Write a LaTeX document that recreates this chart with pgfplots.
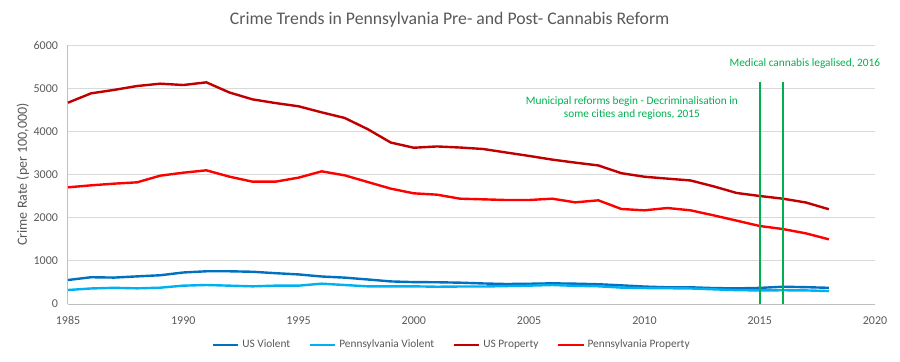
\documentclass[border=0pt]{standalone}
\usepackage{pgfplots}
\pgfplotsset{compat=1.18}
\usepackage{fontspec}
\setmainfont{Carlito}
\definecolor{txtgray}{RGB}{89,89,89}
\definecolor{gridgray}{RGB}{217,217,217}
\definecolor{axgray}{RGB}{191,191,191}
\definecolor{usviol}{RGB}{0,112,192}
\definecolor{paviol}{RGB}{0,176,240}
\definecolor{usprop}{RGB}{192,0,0}
\definecolor{paprop}{RGB}{255,0,0}
\definecolor{ann}{RGB}{0,176,80}
\begin{document}
\begin{tikzpicture}
\useasboundingbox (-51pt,-42.75pt) rectangle (624pt,228pt);
\begin{axis}[
  scale only axis,
  width=605.25pt, height=194.25pt,
  xmin=1985, xmax=2020, ymin=0, ymax=6000,
  xtick={1985,1990,...,2020},
  ytick={0,1000,...,6000},
  axis x line=bottom, axis y line=left,
  axis line style={draw=axgray, line width=0.75pt, -},
  major tick length=0pt,
  ymajorgrids, grid style={draw=gridgray, line width=0.75pt},
  /pgf/number format/1000 sep={},
  /pgf/number format/assume math mode=true,
  tick label style={font=\fontsize{9}{10}\selectfont, text=txtgray},
  xticklabel style={yshift=-6pt},
  yticklabel style={xshift=-4pt},
  ylabel={Crime Rate (per 100,000)},
  ylabel style={font=\fontsize{10.5}{12}\selectfont, text=txtgray, at={(axis description cs:-0.0558,0.5)}, anchor=center, rotate=0},
  legend style={at={(axis description cs:0.476,-0.158)}, anchor=center, draw=none, legend columns=4,
    font=\fontsize{8.5}{10}\selectfont, text=txtgray, /tikz/every even column/.append style={column sep=12pt}},
  legend image code/.code={\draw[#1] (0pt,0pt) -- (19pt,0pt);},
  every axis plot/.append style={line width=1.8pt, line join=round},
  clip=false,
]
\addplot[usviol] coordinates {
(1985,556)(1986,620)(1987,612)(1988,640)(1989,666)(1990,730)(1991,758)(1992,758)(1993,747)(1994,714)
(1995,685)(1996,637)(1997,611)(1998,568)(1999,523)(2000,507)(2001,504)(2002,494)(2003,476)(2004,463)
(2005,469)(2006,479)(2007,471)(2008,458)(2009,432)(2010,404)(2011,387)(2012,387)(2013,369)(2014,362)
(2015,373)(2016,400)(2017,390)(2018,375)};
\addlegendentry{US Violent}
\addplot[paviol] coordinates {
(1985,324)(1986,360)(1987,375)(1988,363)(1989,378)(1990,425)(1991,440)(1992,425)(1993,409)(1994,425)
(1995,425)(1996,471)(1997,440)(1998,409)(1999,409)(2000,409)(2001,400)(2002,405)(2003,405)(2004,415)
(2005,425)(2006,440)(2007,420)(2008,410)(2009,380)(2010,370)(2011,365)(2012,360)(2013,340)(2014,320)
(2015,315)(2016,318)(2017,315)(2018,300)};
\addlegendentry{Pennsylvania Violent}
\addplot[usprop] coordinates {
(1985,4664)(1986,4880)(1987,4960)(1988,5050)(1989,5104)(1990,5073)(1991,5135)(1992,4900)(1993,4741)(1994,4655)
(1995,4580)(1996,4440)(1997,4310)(1998,4050)(1999,3740)(2000,3620)(2001,3650)(2002,3625)(2003,3591)(2004,3510)
(2005,3430)(2006,3345)(2007,3275)(2008,3210)(2009,3030)(2010,2948)(2011,2904)(2012,2862)(2013,2725)(2014,2572)
(2015,2502)(2016,2440)(2017,2352)(2018,2195)};
\addlegendentry{US Property}
\addplot[paprop] coordinates {
(1985,2703)(1986,2749)(1987,2788)(1988,2819)(1989,2973)(1990,3042)(1991,3097)(1992,2950)(1993,2834)(1994,2834)
(1995,2927)(1996,3073)(1997,2981)(1998,2826)(1999,2672)(2000,2564)(2001,2533)(2002,2440)(2003,2425)(2004,2409)
(2005,2409)(2006,2440)(2007,2355)(2008,2402)(2009,2201)(2010,2170)(2011,2224)(2012,2170)(2013,2054)(2014,1931)
(2015,1807)(2016,1737)(2017,1637)(2018,1498)};
\addlegendentry{Pennsylvania Property}
\addplot[ann, line width=1.5pt, forget plot] coordinates {(2015,0)(2015,5145)};
\addplot[ann, line width=1.5pt, forget plot] coordinates {(2016,0)(2016,5145)};
\node[text=ann, font=\fontsize{8.5}{10}\selectfont] at (axis cs:2016.96,5560) {Medical cannabis legalised, 2016};
\node[text=ann, font=\fontsize{8.5}{10}\selectfont, align=center] at (axis cs:2009.46,4540) {Municipal reforms begin - Decriminalisation in\\some cities and regions, 2015};
\node[text=txtgray, font=\fontsize{13.3}{15}\selectfont] at (axis description cs:0.473,1.0965) {Crime Trends in Pennsylvania Pre- and Post- Cannabis Reform};
\end{axis}
\end{tikzpicture}
\end{document}
